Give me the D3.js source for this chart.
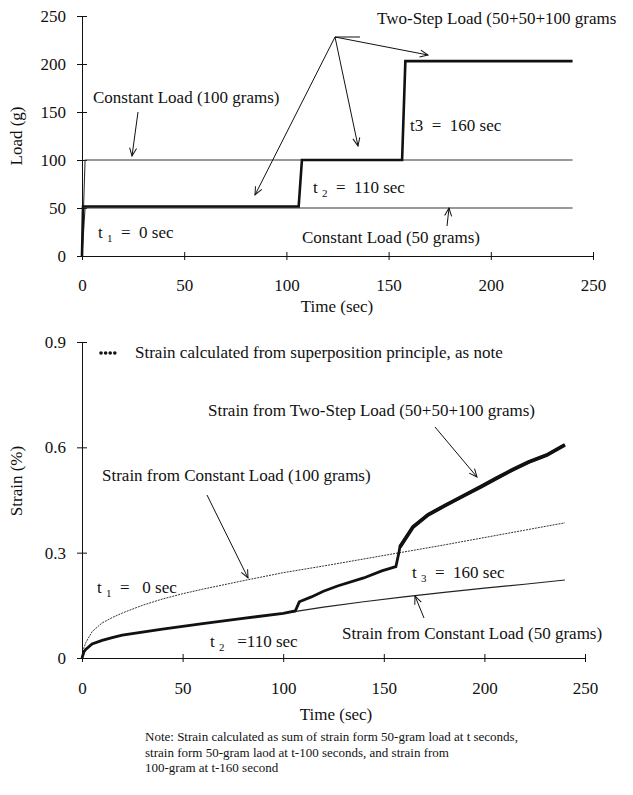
<!DOCTYPE html>
<html>
<head>
<meta charset="utf-8">
<script src="https://cdn.jsdelivr.net/npm/d3@7"></script>
<style>
  body { margin: 0; background: #fff; }
</style>
</head>
<body>
<div id="chart"></div>
<script>
// ---- top chart data: load history ----
const loadTicksX = [0, 50, 100, 150, 200, 250];
const loadTicksY = [0, 50, 100, 150, 200, 250];
const constTime = [0, 1.5, 240];
const const100Load = [0, 100, 100];
const const50Load = [0, 50, 50];
const stepTime = [0, 0.5, 106, 107.6, 156.6, 158.2, 240];
const stepLoad = [0, 51.5, 51.5, 100, 100, 203, 203];

// ---- bottom chart data: strain ----
const strainTicksX = [0, 50, 100, 150, 200, 250];
const strainTicksY = [0, 0.3, 0.6, 0.9];
const strainTime = [0, 1, 2, 5, 10, 15, 20, 30, 40, 50, 60, 80, 100, 120, 140, 160, 180, 200, 220, 240];
const strain100 = [0, 0.03, 0.045, 0.075, 0.1, 0.115, 0.128, 0.15, 0.168, 0.183, 0.196, 0.22, 0.243, 0.262, 0.282, 0.302, 0.322, 0.343, 0.364, 0.385];
const strain50 = [0, 0.018, 0.025, 0.04, 0.05, 0.058, 0.065, 0.074, 0.082, 0.09, 0.098, 0.113, 0.127, 0.145, 0.16, 0.174, 0.187, 0.199, 0.21, 0.222];
const stepStrainTime = [0, 1, 2, 5, 10, 15, 20, 30, 40, 50, 60, 80, 100, 106, 108, 114, 120, 127, 140, 149, 156, 157.5, 158, 164.5, 172, 181, 190, 198, 206, 214, 222, 231, 240];
const stepStrain = [0, 0.018, 0.025, 0.04, 0.05, 0.058, 0.065, 0.074, 0.082, 0.09, 0.098, 0.113, 0.127, 0.134, 0.16, 0.174, 0.19, 0.205, 0.228, 0.248, 0.26, 0.3, 0.316, 0.373, 0.408, 0.436, 0.463, 0.487, 0.512, 0.536, 0.558, 0.578, 0.607];

const noteLines = [
  "Note: Strain calculated as sum of strain form 50-gram load at t seconds,",
  "strain form 50-gram laod at t-100 seconds, and strain from",
  "100-gram at t-160 second"
];

const FONT = "'Liberation Serif', 'Times New Roman', Times, serif";

const svg = d3.select("#chart").append("svg")
    .attr("width", 633)
    .attr("height", 795)
    .attr("font-family", FONT)
    .style("font-family", FONT);

svg.append("defs").append("marker")
    .attr("id", "arrow")
    .attr("markerUnits", "userSpaceOnUse")
    .attr("markerWidth", 12).attr("markerHeight", 12)
    .attr("refX", 0).attr("refY", 0)
    .attr("viewBox", "-10 -6 12 12")
    .attr("orient", "auto")
  .append("path")
    .attr("d", "M-8,-3.5 L0,0 L-8,3.5")
    .attr("fill", "none")
    .attr("stroke", "#111")
    .attr("stroke-width", 1);

function zip(xs, ys) { return xs.map((t, i) => [t, ys[i]]); }

function drawAxes(x, y, xTicks, yTicks, yFmt, xLabelOffset) {
  let gx = svg.append("g")
      .attr("transform", "translate(0," + y.range()[0] + ")")
      .call(d3.axisBottom(x).tickValues(xTicks).tickSizeOuter(0).tickSize(0));
  gx.attr("font-family", FONT);
  gx.selectAll(".tick line").attr("y1", -4).attr("y2", 4).attr("stroke", "#111");
  gx.selectAll(".tick text").attr("y", xLabelOffset).attr("dy", 0)
      .attr("fill", "#111")
      .style("font-size", "17px").style("font-family", FONT);
  gx.select(".domain").attr("stroke", "#111");

  let gy = svg.append("g")
      .attr("transform", "translate(" + x.range()[0] + ",0)")
      .call(d3.axisLeft(y).tickValues(yTicks).tickFormat(yFmt).tickSizeOuter(0).tickSize(0));
  gy.attr("font-family", FONT);
  gy.selectAll(".tick line").attr("x1", -5).attr("x2", 5).attr("stroke", "#111");
  gy.selectAll(".tick text").attr("x", -16).attr("dy", "0.32em")
      .attr("fill", "#111")
      .style("font-size", "17px").style("font-family", FONT);
  gy.select(".domain").attr("stroke", "#111");
}

function label(txt, x, y, size) {
  return svg.append("text").attr("x", x).attr("y", y)
      .attr("fill", "#111")
      .style("font-family", FONT)
      .style("font-size", (size || 17) + "px")
      .style("white-space", "pre")
      .text(txt);
}

function subLabel(pre, sub, post, x, y) {
  let t = svg.append("text").attr("x", x).attr("y", y)
      .attr("fill", "#111")
      .style("font-family", FONT)
      .style("font-size", "17px").style("white-space", "pre");
  t.append("tspan").text(pre);
  t.append("tspan").attr("dy", 4).style("font-size", "11px").text(sub);
  t.append("tspan").attr("dy", -4).text(post);
}

function arrow(x1, y1, x2, y2, head) {
  let l = svg.append("line")
      .attr("x1", x1).attr("y1", y1).attr("x2", x2).attr("y2", y2)
      .attr("stroke", "#111").attr("stroke-width", 1);
  if (head !== false) l.attr("marker-end", "url(#arrow)");
}

/************ top chart: load vs time *****************/
const x1 = d3.scaleLinear().domain([0, 250]).range([82, 593]);
const y1 = d3.scaleLinear().domain([0, 250]).range([256, 16]);

drawAxes(x1, y1, loadTicksX, loadTicksY, d3.format("d"), 35);

let loadLine = d3.line().x(d => x1(d[0])).y(d => y1(d[1]));

svg.append("path").datum(zip(constTime, const100Load))
    .attr("d", loadLine).attr("fill", "none")
    .attr("stroke", "#333").attr("stroke-width", 1.1);
svg.append("path").datum(zip(constTime, const50Load))
    .attr("d", loadLine).attr("fill", "none")
    .attr("stroke", "#333").attr("stroke-width", 1.1);
svg.append("path").datum(zip(stepTime, stepLoad))
    .attr("d", loadLine).attr("fill", "none")
    .attr("stroke", "#111").attr("stroke-width", 2.6);

label("Load (g)", 0, 0)
    .attr("transform", "translate(22,136) rotate(-90)")
    .attr("text-anchor", "middle");
label("Time (sec)", 337, 312).attr("text-anchor", "middle");

label("Two-Step Load (50+50+100 grams", 377, 24);
label("Constant Load (100 grams)", 93, 103);
label("t3  =  160 sec", 410, 131);
subLabel("t ", "2", "  =  110 sec", 313, 193);
subLabel("t ", "1", "  =  0 sec", 98, 238);
label("Constant Load (50 grams)", 302, 243);

arrow(138, 112, 132, 156);
arrow(335, 37, 360, 37, false);
arrow(335, 37, 428, 55);
arrow(335, 37, 358, 146);
arrow(335, 37, 255, 195);
arrow(447, 226, 449, 208);

/************ bottom chart: strain vs time *****************/
const x2 = d3.scaleLinear().domain([0, 250]).range([82, 585]);
const y2 = d3.scaleLinear().domain([0, 0.9]).range([658, 342]);

drawAxes(x2, y2, strainTicksX, strainTicksY, d => d === 0 ? "0" : d3.format(".1f")(d), 36);

let strainLine = d3.line().x(d => x2(d[0])).y(d => y2(d[1]));

svg.append("path").datum(zip(strainTime, strain100))
    .attr("d", strainLine).attr("fill", "none")
    .attr("stroke", "#333").attr("stroke-width", 1)
    .attr("stroke-dasharray", "2,1");
svg.append("path").datum(zip(strainTime, strain50))
    .attr("d", strainLine).attr("fill", "none")
    .attr("stroke", "#222").attr("stroke-width", 1.1);

let stepPts = zip(stepStrainTime, stepStrain);
svg.append("path").datum(stepPts)
    .attr("d", strainLine).attr("fill", "none")
    .attr("stroke", "#111").attr("stroke-width", 2.8);
// rougher, heavier trace after the second step
svg.append("path").datum(stepPts.filter(d => d[0] >= 158))
    .attr("d", strainLine).attr("fill", "none")
    .attr("stroke", "#111").attr("stroke-width", 3.8);

// legend dots
svg.selectAll("circle.legend")
    .data([0, 1, 2, 3])
    .enter().append("circle")
    .attr("class", "legend")
    .attr("cx", d => 101 + d * 4.6)
    .attr("cy", 353)
    .attr("r", 1.8)
    .attr("fill", "#111");
label("Strain calculated from superposition principle, as note", 135, 358);

label("Strain (%)", 0, 0)
    .attr("transform", "translate(22,481) rotate(-90)")
    .attr("text-anchor", "middle");
label("Time (sec)", 336, 720).attr("text-anchor", "middle");

label("Strain from Two-Step Load (50+50+100 grams)", 208, 416);
label("Strain from Constant Load (100 grams)", 102, 481);
subLabel("t ", "1", "  =   0 sec", 97, 593);
subLabel("t ", "2", "   =110 sec", 210, 647);
subLabel("t ", "3", "  =  160 sec", 412, 578);
label("Strain from Constant Load (50 grams)", 342, 639);

arrow(435, 427, 477, 477);
arrow(207, 495, 248, 578);
arrow(424, 618, 415, 596);

noteLines.forEach((s, i) => {
  label(s, 145, 741 + i * 15.5, 13);
});
</script>
</body>
</html>
